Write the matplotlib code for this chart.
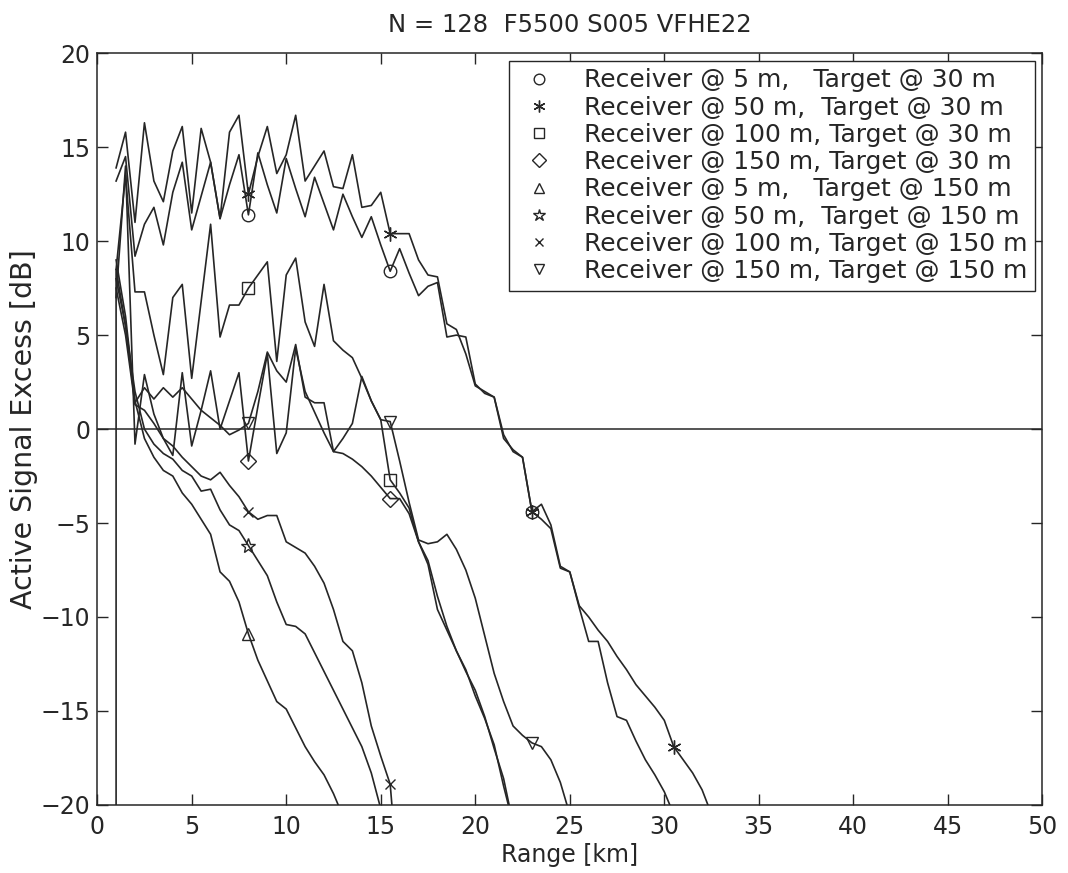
import numpy as np
import matplotlib.pyplot as plt
from matplotlib.lines import Line2D

plt.rcParams['font.family'] = ['DejaVu Sans']

# range grid [km], 0.5 km step starting at 1 km
rng = np.arange(1.0, 33.0, 0.5)

# Active signal excess [dB] per case
r5_t30 = [13.2, 14.5, 9.2, 10.9, 11.8, 9.8, 12.6, 14.2, 10.6, 12.4, 14.2, 11.2, 13.0, 14.6,
          11.4, 14.7, 13.0, 11.5, 14.4, 12.8, 11.3, 13.4, 12.0, 10.6, 12.5, 11.3, 10.2, 11.3,
          9.8, 8.4, 9.6, 8.3, 7.1, 7.6, 7.8, 4.9, 5.0, 4.9, 2.4, 1.9, 1.7, -0.5, -1.1, -1.5,
          -4.4, -4.8, -5.3, -7.4, -7.6, -9.5, -11.3, -11.3, -13.5, -15.3, -15.5, -16.6, -17.6,
          -18.4, -19.3, -20.5]
r50_t30 = [13.9, 15.8, 11.0, 16.3, 13.2, 12.1, 14.8, 16.1, 11.5, 16.0, 14.2, 11.2, 15.8, 16.7,
           12.5, 14.5, 16.1, 13.6, 14.6, 16.7, 13.2, 14.0, 14.8, 12.9, 12.8, 14.6, 11.8, 11.9,
           12.6, 10.4, 10.4, 10.4, 9.0, 8.2, 8.1, 5.6, 5.3, 4.0, 2.3, 2.0, 1.7, -0.3, -1.2, -1.5,
           -4.4, -4.0, -5.1, -7.3, -7.6, -9.4, -10.0, -10.7, -11.3, -12.1, -12.8, -13.6, -14.2,
           -14.8, -15.5, -16.9, -17.6, -18.3, -19.2, -20.5]
r100_t30 = [8.5, 13.5, 7.3, 7.3, 5.0, 2.9, 7.0, 7.7, 2.7, 6.8, 10.9, 4.9, 6.6, 6.6,
            7.5, 8.2, 8.9, 3.6, 8.2, 9.1, 5.7, 4.4, 7.7, 4.7, 4.2, 3.8, 2.7, 1.5,
            0.5, -2.7, -3.4, -4.2, -6.0, -7.0, -8.9, -10.5, -11.8, -12.8, -14.2, -15.4,
            -16.8, -19.0, -21.0]
r150_t30 = [7.0, 14.0, -0.8, 2.9, 0.8, -0.5, -1.4, 3.0, -0.9, 1.0, 3.1, 0.0, 1.5, 3.0,
            -1.7, 1.2, 4.0, -1.3, -0.2, 4.3, 2.0, 0.9, -0.2, -1.2, -1.3, -1.6, -2.0, -2.5,
            -3.1, -3.7, -3.7, -4.5, -6.0, -7.2, -9.6, -10.7, -11.8, -12.9, -13.9, -15.3,
            -17.0, -18.6, -21.0]
r5_t150 = [9.0, 6.0, 1.5, -0.5, -1.5, -2.2, -2.5, -3.4, -4.0, -4.8, -5.6, -7.6, -8.1, -9.2,
           -10.9, -12.3, -13.4, -14.5, -14.9, -15.9, -16.9, -17.7, -18.4, -19.4, -20.6]
r50_t150 = [8.0, 5.5, 2.0, 0.0, -0.8, -1.3, -1.6, -2.2, -2.5, -3.3, -3.2, -4.3, -5.1, -5.4,
            -6.2, -7.0, -7.8, -9.2, -10.4, -10.5, -10.9, -11.9, -12.9, -13.9, -14.9, -15.9,
            -16.9, -18.3, -20.2]
r100_t150 = [7.5, 5.0, 1.3, 1.0, 0.3, -0.5, -0.9, -1.5, -2.0, -2.5, -2.7, -2.3, -3.0, -3.6,
             -4.4, -4.8, -4.6, -4.6, -6.0, -6.3, -6.6, -7.3, -8.2, -9.6, -11.3, -11.8, -13.5,
             -15.8, -17.4, -18.9, -25.0]
r150_t150 = [8.5, 5.5, 1.4, 2.2, 1.6, 2.2, 1.7, 2.2, 1.6, 1.0, 0.6, 0.2, -0.3, -0.05,
             0.3, 2.0, 4.1, 3.1, 2.5, 4.5, 1.7, 1.4, 1.4, -1.2, -0.5, 0.3, 2.8, 1.5,
             0.5, 0.4, -1.7, -3.9, -5.9, -6.1, -6.0, -5.6, -6.4, -7.5, -9.0, -11.0, -13.0,
             -14.5, -15.8, -16.3, -16.7, -16.9, -17.6, -18.8, -20.5]
# the last case starts with a drop-out below the axis at 1 km
r150_t150_start = -25.0

labels = ['Receiver @ 5 m,   Target @ 30 m',
          'Receiver @ 50 m,  Target @ 30 m',
          'Receiver @ 100 m, Target @ 30 m',
          'Receiver @ 150 m, Target @ 30 m',
          'Receiver @ 5 m,   Target @ 150 m',
          'Receiver @ 50 m,  Target @ 150 m',
          'Receiver @ 100 m, Target @ 150 m',
          'Receiver @ 150 m, Target @ 150 m']
markers = ['o', (6, 2, 0), 's', 'D', '^', '*', 'x', 'v']
msizes = [9, 10, 8, 8, 9, 11, 7, 9]

series = [r5_t30, r50_t30, r100_t30, r150_t30, r5_t150, r50_t150, r100_t150]

ink = '#262626'
fig = plt.figure(figsize=(10.68, 8.73), dpi=100)
ax = fig.add_axes([0.091, 0.078, 0.885, 0.861])

for y, m, ms in zip(series, markers, msizes):
    ax.plot(rng[:len(y)], y, color=ink, lw=1.2, marker=m, ms=ms, mfc='none',
            mec=ink, mew=1.0, markevery=slice(14, None, 15))
x_last = np.r_[rng[0], rng[:len(r150_t150)]]
y_last = np.r_[r150_t150_start, r150_t150]
ax.plot(x_last, y_last, color=ink, lw=1.2, marker='v', ms=9, mfc='none',
        mec=ink, mew=1.0, markevery=slice(15, None, 15))

ax.axhline(0, color=ink, lw=1.1)

ax.set_xlim(0, 50)
ax.set_ylim(-20, 20)
ax.set_xticks(np.arange(0, 51, 5))
ax.set_yticks(np.arange(-20, 21, 5))
ax.set_yticklabels(['\u221220', '\u221215', '\u221210', '\u22125', '0', '5', '10', '15', '20'])
ax.tick_params(direction='in', top=True, right=True, length=8, width=1.0,
               labelsize=17, colors=ink)
ax.tick_params(axis='x', pad=7)
ax.tick_params(axis='y', pad=5)
for s in ax.spines.values():
    s.set_color(ink)
    s.set_linewidth(1.1)

ax.set_xlabel('Range [km]', fontsize=17, color=ink, labelpad=3)
ax.set_ylabel('Active Signal Excess [dB]', fontsize=20.5, color=ink, labelpad=2)
ax.set_title('N = 128  F5500 S005 VFHE22', fontsize=17.5, color=ink, pad=15)

handles = [Line2D([], [], ls='none', marker=m, ms=ms * 0.85, mfc='none', mec=ink, mew=1.0)
           for m, ms in zip(markers, msizes)]
leg = ax.legend(handles, labels, loc='upper right', fontsize=18, frameon=True,
                fancybox=False, edgecolor=ink, framealpha=1, borderaxespad=0.3,
                handlelength=1.8, handletextpad=0.9, labelspacing=0.13,
                borderpad=0.3, labelcolor=ink)
leg.get_frame().set_linewidth(1.0)

fig.savefig('out.png', dpi=100)
